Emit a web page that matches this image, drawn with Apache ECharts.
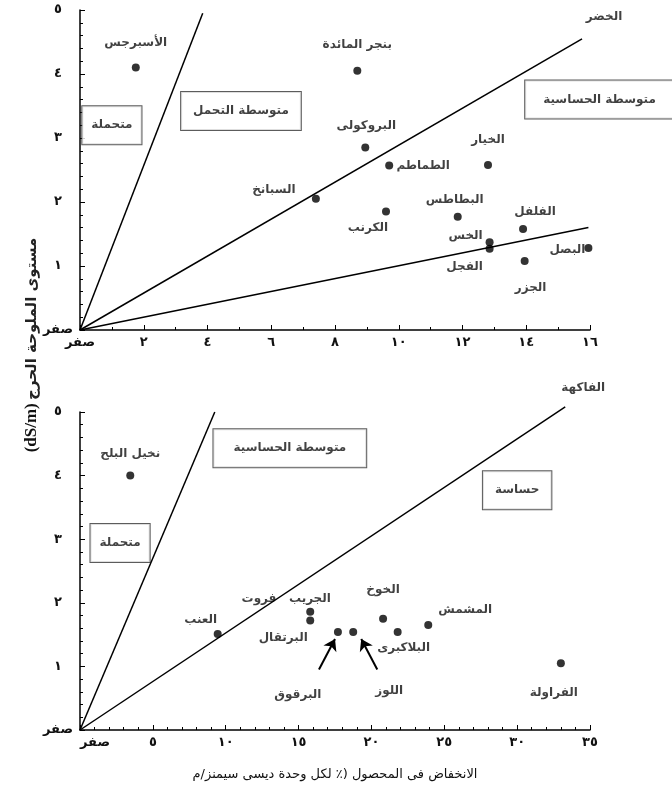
<!DOCTYPE html>
<html>
<head>
<meta charset="utf-8">
<script src="https://cdn.jsdelivr.net/npm/echarts/dist/echarts.min.js"></script>
<style>
  html, body { margin: 0; padding: 0; background: #fff; }
  #main { width: 672px; height: 796px; }
</style>
</head>
<body>
<div id="main" dir="rtl"></div>
<script>
// الخضر (vegetables) - top panel
const vegNames = ['الأسبرجس', 'بنجر المائدة', 'البروكولى', 'الطماطم', 'الخيار', 'السبانخ', 'الكرنب', 'البطاطس', 'الفلفل', 'الخس', 'الفجل', 'البصل', 'الجزر'];
const vegYieldLoss = [1.75, 8.7, 8.95, 9.7, 12.8, 7.4, 9.6, 11.85, 13.9, 12.85, 12.85, 15.95, 13.95];
const vegThreshold = [4.1, 4.05, 2.85, 2.57, 2.58, 2.05, 1.85, 1.77, 1.58, 1.37, 1.27, 1.28, 1.08];
const vegBoundaries = [[3.85, 4.95], [15.75, 4.55], [15.95, 1.6]];
const vegZones = ['متحملة', 'متوسطة التحمل', 'متوسطة الحساسية'];
const vegZoneX = [1.0, 5.05, 16.3];
const vegZoneY = [3.2, 3.42, 3.6];
const vegGroup = 'الخضر';

// الفاكهة (fruit) - bottom panel
const fruitNames = ['نخيل البلح', 'العنب', 'الجريب   فروت', 'البرتقال', 'البرقوق', 'اللوز', 'الخوخ', 'البلاكبرى', 'المشمش', 'الفراولة'];
const fruitYieldLoss = [3.45, 9.45, 15.8, 15.8, 17.7, 18.75, 20.8, 21.8, 23.9, 33.0];
const fruitThreshold = [4.0, 1.51, 1.86, 1.72, 1.54, 1.54, 1.75, 1.54, 1.65, 1.05];
const fruitBoundaries = [[9.25, 5.0], [33.3, 5.08]];
const fruitZones = ['متوسطة الحساسية', 'متحملة', 'حساسة'];
const fruitZoneX = [14.4, 2.75, 30.0];
const fruitZoneY = [4.43, 2.94, 3.77];
const fruitGroup = 'الفاكهة';
const arrowFrom = [[16.4, 0.95], [20.4, 0.95]];
const arrowTo = [[17.5, 1.43], [19.3, 1.43]];

// tick labels
const topXTicks = ['صفر', '٢', '٤', '٦', '٨', '١٠', '١٢', '١٤', '١٦'];
const bottomXTicks = ['صفر', '٥', '١٠', '١٥', '٢٠', '٢٥', '٣٠', '٣٥'];
const yTicks = ['صفر', '١', '٢', '٣', '٤', '٥'];

const yTitle = 'مستوى الملوحة الحرج';
const yUnit = '(dS/m)';
const xTitle = 'الانخفاض فى المحصول (٪ لكل وحدة ديسى سيمنز/م';

// label placement (pixels, relative to the dot) and box padding
const vegLabelOffset = [[0, -25], [0, -26], [1, -22], [34, 0], [0, -25], [-42, -9], [-18, 16], [-3, -17], [12, -17], [-24, -6], [-25, 18], [-21, 2], [6, 27]];
const fruitLabelOffset = [[0, -22], [-17, -14], [-24, -13], [-27, 17], [-40, 63], [36, 59], [0, -29], [6, 16], [37, -15], [-7, 30]];
const vegZonePad = [9, 12, 18];
const fruitZonePad = [20, 9, 12];

const txt = { color: '#111', fontFamily: 'DejaVu Sans', fontWeight: 'bold', fontSize: 12 };
const black = { color: '#000', width: 1.5 };

function fmt(ticks, step) {
  return (v) => ticks[Math.round(v / step)] || '';
}

function xAxisOf(idx, max, step, ticks, minorSplit) {
  return {
    gridIndex: idx, type: 'value', min: 0, max: max, interval: step,
    axisLine: { show: true, onZero: false, lineStyle: black },
    axisTick: { show: true, inside: true, length: 5, lineStyle: { color: '#000' } },
    minorTick: { show: true, splitNumber: minorSplit, length: 3, lineStyle: { color: '#000' } },
    splitLine: { show: false },
    axisLabel: Object.assign({ formatter: fmt(ticks, step), margin: 6 }, txt, { fontSize: 13 }),
  };
}

function yAxisOf(idx) {
  return {
    gridIndex: idx, type: 'value', min: 0, max: 5, interval: 1,
    axisLine: { show: true, onZero: false, lineStyle: black },
    axisTick: { show: true, inside: true, length: 5, lineStyle: { color: '#000' } },
    minorTick: { show: true, splitNumber: 5, length: 3, lineStyle: { color: '#000' } },
    splitLine: { show: false },
    axisLabel: Object.assign({ formatter: fmt(yTicks, 1), margin: 22, align: 'center' }, txt, { fontSize: 13 }),
  };
}

function boundaryLines(idx, bounds) {
  return bounds.map((b) => ({
    type: 'line', xAxisIndex: idx, yAxisIndex: idx,
    data: [[0, 0], b], symbol: 'none', clip: false, silent: true,
    lineStyle: black,
  }));
}

function points(idx, names, xs, ys, offsets) {
  return {
    type: 'scatter', xAxisIndex: idx, yAxisIndex: idx,
    symbol: 'circle', symbolSize: 8, clip: false,
    itemStyle: { color: '#000' },
    label: Object.assign({ show: true, position: 'inside', formatter: (p) => p.name }, txt),
    data: names.map((n, i) => ({ name: n, value: [xs[i], ys[i]], label: { offset: offsets[i] } })),
  };
}

function zoneBoxes(idx, names, xs, ys, pads) {
  return {
    type: 'scatter', xAxisIndex: idx, yAxisIndex: idx, symbolSize: 0, silent: true, clip: false,
    label: Object.assign({
      show: true, position: 'inside', formatter: (p) => p.name,
      borderColor: '#333', borderWidth: 1, backgroundColor: '#fff',
    }, txt),
    data: names.map((n, i) => ({ name: n, value: [xs[i], ys[i]], label: { padding: [13, pads[i]] } })),
  };
}

function groupLabel(idx, name, end, offset) {
  return {
    type: 'scatter', xAxisIndex: idx, yAxisIndex: idx, symbolSize: 0, silent: true, clip: false,
    label: Object.assign({ show: true, position: 'inside', offset: offset, formatter: name }, txt),
    data: [{ name: name, value: end }],
  };
}

const arrows = {
  type: 'lines', coordinateSystem: 'cartesian2d', xAxisIndex: 1, yAxisIndex: 1,
  silent: true, symbol: ['none', 'arrow'], symbolSize: 11,
  lineStyle: { color: '#000', width: 2, opacity: 1 },
  itemStyle: { color: '#000' },
  data: arrowFrom.map((a, i) => ({ coords: [a, arrowTo[i]] })),
};

const bottomX = xAxisOf(1, 35, 5, bottomXTicks, 5);
bottomX.axisLabel.alignMinLabel = 'left';
Object.assign(bottomX, {
  name: xTitle, nameLocation: 'middle', nameGap: 38,
  nameTextStyle: { color: '#111', fontFamily: 'DejaVu Sans', fontSize: 13 },
});

const option = {
  animation: false,
  backgroundColor: '#fff',
  grid: [
    { left: 80, top: 10, width: 510, height: 320, containLabel: false, outerBoundsMode: 'none' },
    { left: 80, top: 412, width: 510, height: 318, containLabel: false, outerBoundsMode: 'none' },
  ],
  xAxis: [xAxisOf(0, 16, 2, topXTicks, 2), bottomX],
  yAxis: [yAxisOf(0), yAxisOf(1)],
  graphic: [{
    type: 'text', x: 32, y: 345, rotation: Math.PI / 2,
    style: {
      text: '{b|' + yUnit + '} {a|' + yTitle + '}',
      align: 'center', verticalAlign: 'middle',
      rich: {
        a: { fontSize: 15, fontFamily: 'DejaVu Sans', fontWeight: 'bold', fill: '#222' },
        b: { fontSize: 17, fontWeight: 'bold', fontFamily: 'Liberation Serif', fill: '#111' },
      },
    },
  }],
  series: [
    ...boundaryLines(0, vegBoundaries),
    points(0, vegNames, vegYieldLoss, vegThreshold, vegLabelOffset),
    zoneBoxes(0, vegZones, vegZoneX, vegZoneY, vegZonePad),
    groupLabel(0, vegGroup, vegBoundaries[1], [22, -22]),
    ...boundaryLines(1, fruitBoundaries),
    points(1, fruitNames, fruitYieldLoss, fruitThreshold, fruitLabelOffset),
    zoneBoxes(1, fruitZones, fruitZoneX, fruitZoneY, fruitZonePad),
    groupLabel(1, fruitGroup, fruitBoundaries[1], [18, -19]),
    arrows,
  ],
};

const chart = echarts.init(document.getElementById('main'));
chart.setOption(option);
window.addEventListener('resize', () => chart.resize());
</script>
</body>
</html>
